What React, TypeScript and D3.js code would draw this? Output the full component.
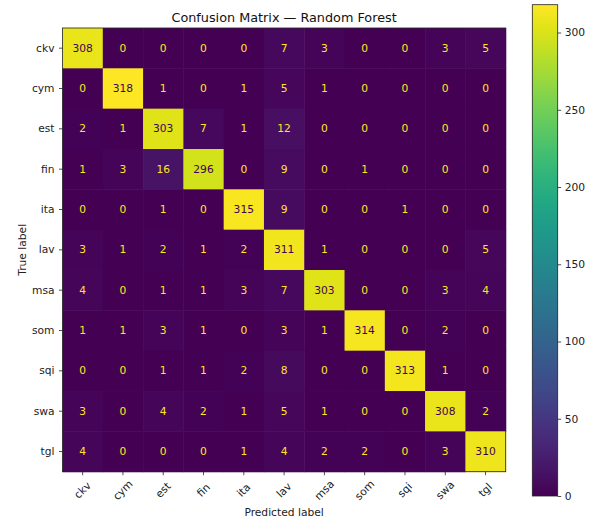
import React, { useRef, useEffect } from "react";
import * as d3 from "d3";

const labels = ["ckv", "cym", "est", "fin", "ita", "lav", "msa", "som", "sqi", "swa", "tgl"];

const ckv = [308, 0, 0, 0, 0, 7, 3, 0, 0, 3, 5];
const cym = [0, 318, 1, 0, 1, 5, 1, 0, 0, 0, 0];
const est = [2, 1, 303, 7, 1, 12, 0, 0, 0, 0, 0];
const fin = [1, 3, 16, 296, 0, 9, 0, 1, 0, 0, 0];
const ita = [0, 0, 1, 0, 315, 9, 0, 0, 1, 0, 0];
const lav = [3, 1, 2, 1, 2, 311, 1, 0, 0, 0, 5];
const msa = [4, 0, 1, 1, 3, 7, 303, 0, 0, 3, 4];
const som = [1, 1, 3, 1, 0, 3, 1, 314, 0, 2, 0];
const sqi = [0, 0, 1, 1, 2, 8, 0, 0, 313, 1, 0];
const swa = [3, 0, 4, 2, 1, 5, 1, 0, 0, 308, 2];
const tgl = [4, 0, 0, 0, 1, 4, 2, 2, 0, 3, 310];

const rows = [ckv, cym, est, fin, ita, lav, msa, som, sqi, swa, tgl];
const colorbarTicks = [0, 50, 100, 150, 200, 250, 300];

const W = 593;
const H = 520;
const FONT = "DejaVu Sans, sans-serif";
const FS = "10.7px";

const ConfusionMatrix = () => {
    const svgRef = useRef<SVGSVGElement>(null);

    useEffect(() => {
        const svg = d3.select(svgRef.current);
        svg.selectAll("*").remove();

        const left = 62.5;
        const top = 28;
        const right = 505.7;
        const bottom = 471.7;

        const allVals = rows.flat();
        const vmax = d3.max(allVals) as number;
        const vmin = d3.min(allVals) as number;
        const color = d3.scaleSequential(d3.interpolateViridis).domain([vmin, vmax]);

        const x = d3.scaleBand().domain(labels).range([left, right]);
        const y = d3.scaleBand().domain(labels).range([top, bottom]);

        const cells = rows.flatMap((row, i) =>
            row.map((v, j) => ({ r: labels[i], c: labels[j], v }))
        );

        const g = svg.append("g");
        g.selectAll("rect.cell")
            .data(cells)
            .enter()
            .append("rect")
            .attr("class", "cell")
            .attr("x", (d) => x(d.c) as number)
            .attr("y", (d) => y(d.r) as number)
            .attr("width", x.bandwidth() + 0.5)
            .attr("height", y.bandwidth() + 0.5)
            .attr("fill", (d) => color(d.v));

        const thresh = (vmax + vmin) / 2;
        g.selectAll("text.val")
            .data(cells)
            .enter()
            .append("text")
            .attr("class", "val")
            .attr("x", (d) => (x(d.c) as number) + x.bandwidth() / 2)
            .attr("y", (d) => (y(d.r) as number) + y.bandwidth() / 2)
            .attr("text-anchor", "middle")
            .attr("dominant-baseline", "central")
            .style("font-family", FONT)
            .style("font-size", FS)
            .attr("fill", (d) => (d.v < thresh ? color(vmax) : color(vmin)))
            .text((d) => d.v);

        // frame
        svg.append("rect")
            .attr("x", left)
            .attr("y", top)
            .attr("width", right - left)
            .attr("height", bottom - top)
            .attr("fill", "none")
            .attr("stroke", "#222")
            .attr("stroke-width", 0.8);

        // y ticks
        const yt = svg.append("g");
        labels.forEach((l) => {
            const cy = (y(l) as number) + y.bandwidth() / 2;
            yt.append("line")
                .attr("x1", left - 3.5)
                .attr("x2", left)
                .attr("y1", cy)
                .attr("y2", cy)
                .attr("stroke", "#222")
                .attr("stroke-width", 0.8);
            yt.append("text")
                .attr("x", left - 8)
                .attr("y", cy)
                .attr("text-anchor", "end")
                .attr("dominant-baseline", "central")
                .style("font-family", FONT)
                .style("font-size", FS)
                .attr("fill", "#222")
                .text(l);
        });

        // x ticks
        const xt = svg.append("g");
        labels.forEach((l) => {
            const cx = (x(l) as number) + x.bandwidth() / 2;
            xt.append("line")
                .attr("x1", cx)
                .attr("x2", cx)
                .attr("y1", bottom)
                .attr("y2", bottom + 3.5)
                .attr("stroke", "#222")
                .attr("stroke-width", 0.8);
            xt.append("text")
                .attr("transform", `translate(${cx},${bottom + 18.5}) rotate(-45)`)
                .attr("text-anchor", "middle")
                .attr("dominant-baseline", "central")
                .style("font-family", FONT)
                .style("font-size", FS)
                .attr("fill", "#222")
                .text(l);
        });

        // title and axis labels
        svg.append("text")
            .attr("x", (left + right) / 2)
            .attr("y", 21.5)
            .attr("text-anchor", "middle")
            .style("font-family", FONT)
            .style("font-size", "12.8px")
            .attr("fill", "#111")
            .text("Confusion Matrix \u2014 Random Forest");

        svg.append("text")
            .attr("x", (left + right) / 2)
            .attr("y", 516)
            .attr("text-anchor", "middle")
            .style("font-family", FONT)
            .style("font-size", FS)
            .attr("fill", "#222")
            .text("Predicted label");

        svg.append("text")
            .attr("transform", `translate(25.5,${(top + bottom) / 2}) rotate(-90)`)
            .attr("text-anchor", "middle")
            .style("font-family", FONT)
            .style("font-size", FS)
            .attr("fill", "#222")
            .text("True label");

        // colorbar
        const cbLeft = 532.3;
        const cbRight = 557.7;
        const cbTop = 4.7;
        const cbBottom = 496;
        const cy = d3.scaleLinear().domain([vmin, vmax]).range([cbBottom, cbTop]);

        const defs = svg.append("defs");
        const grad = defs
            .append("linearGradient")
            .attr("id", "cbgrad")
            .attr("x1", "0")
            .attr("y1", "1")
            .attr("x2", "0")
            .attr("y2", "0");
        d3.range(0, 1.0001, 0.05).forEach((t) => {
            grad.append("stop")
                .attr("offset", t)
                .attr("stop-color", d3.interpolateViridis(t));
        });
        svg.append("rect")
            .attr("x", cbLeft)
            .attr("y", cbTop)
            .attr("width", cbRight - cbLeft)
            .attr("height", cbBottom - cbTop)
            .attr("fill", "url(#cbgrad)")
            .attr("stroke", "#222")
            .attr("stroke-width", 0.8);

        const cbAxis = d3.axisRight(cy).tickValues(colorbarTicks).tickSize(3.5).tickPadding(3.5);
        const ax = svg
            .append("g")
            .attr("transform", `translate(${cbRight},0)`)
            .call(cbAxis);
        ax.select(".domain").remove();
        ax.selectAll("line").attr("stroke", "#222").attr("stroke-width", 0.8);
        ax.selectAll("text")
            .style("font-family", FONT)
            .style("font-size", FS)
            .attr("fill", "#222");
    }, []);

    return <svg ref={svgRef} width={W} height={H} style={{ display: "block", background: "white" }} />;
};

export default function App() {
    return (
        <div style={{ position: "absolute", left: 0, top: 0 }}>
            <ConfusionMatrix />
        </div>
    );
}
